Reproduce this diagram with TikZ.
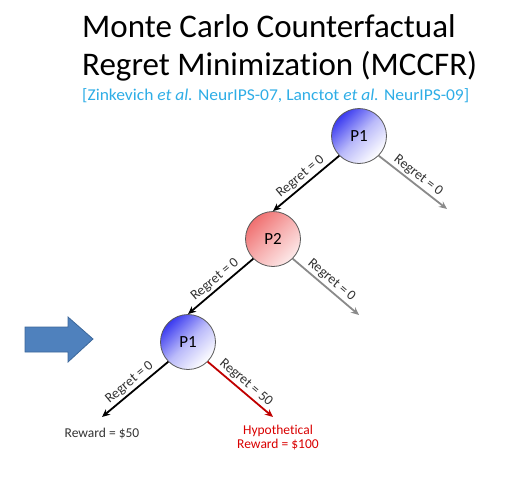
\documentclass[tikz,border=0pt]{standalone}
\usepackage{fontspec}
\setmainfont{Carlito}[Ligatures=CommonOff]
\usetikzlibrary{arrows.meta}
\definecolor{citecol}{HTML}{2EADE6}
\definecolor{redarrow}{HTML}{C00000}
\definecolor{grayarrow}{HTML}{8A8A8A}
\definecolor{bluefill}{HTML}{3A3AF0}
\definecolor{pinkfill}{HTML}{F07070}
\definecolor{barrow}{HTML}{4F81BD}
\definecolor{barrowedge}{HTML}{3C679A}
\begin{document}
\begin{tikzpicture}[x=1pt,y=-1pt,
  player/.style={circle,draw=black!65,line width=0.8pt,minimum size=55pt,inner sep=0pt,font=\fontsize{17}{20}\selectfont},
  bluep/.style={player,shading=axis,top color=bluefill,bottom color=white,middle color=bluefill!35,shading angle=45},
  pinkp/.style={player,shading=axis,top color=pinkfill,bottom color=pinkfill!15,middle color=pinkfill!55,shading angle=45},
  edgeb/.style={line width=1.8pt,-{Stealth[length=8pt,width=7pt]}},
  edgeg/.style={edgeb,draw=grayarrow},
  edger/.style={edgeb,draw=redarrow},
  reglab/.style={sloped,above,font=\fontsize{14}{16}\selectfont,text=black!80,inner sep=2pt},
  rewlab/.style={font=\fontsize{13.5}{16}\selectfont,align=center}
]
\useasboundingbox (0,0) rectangle (523,485);
% title
\node[anchor=base west,inner sep=0pt,font=\fontsize{33}{40}\selectfont] (t1) at (82,37) {Monte Carlo Counterfactual};
\node[anchor=base west,inner sep=0pt,font=\fontsize{33}{40}\selectfont] (t2) at (82,75) {Regret Minimization (MCCFR)};
\node[anchor=base west,inner sep=0pt,font=\fontsize{16.5}{18}\selectfont,text=citecol] (cite) at (82,100) {\scalebox{1.06}[1]{[Zinkevich \textit{et al.} NeurIPS-07, Lanctot \textit{et al.} NeurIPS-09]}};
% nodes
\node[bluep] (p1) at (359,136) {P1};
\node[pinkp] (p2) at (273,239) {P2};
\node[bluep] (p1b) at (188,342) {P1};
\coordinate (e1) at (447,209);
\coordinate (e2) at (359,315);
\coordinate (e3) at (102,417);
\coordinate (e4) at (273,417);
% edges
\draw[edgeb] (p1.225) -- node[reglab] {Regret = 0} (p2.north);
\draw[edgeg] (p1.315) -- node[reglab] {Regret = 0} (e1);
\draw[edgeb] (p2.225) -- node[reglab] {Regret = 0} (p1b.north);
\draw[edgeg] (p2.315) -- node[reglab] {Regret = 0} (e2);
\draw[edgeb] (p1b.225) -- node[reglab] {Regret = 0} (e3);
\draw[edger] (p1b.315) -- node[reglab] {Regret = 50} (e4);
% reward labels
\node[rewlab,anchor=north,text=black!80] (r1) at (102,425) {Reward = \$50};
\node[rewlab,anchor=north,text=red!85!black] (r2) at (278,422) {Hypothetical\\[-2pt]Reward = \$100};
% big arrow
\draw[fill=barrow,draw=barrowedge,line width=0.8pt] (25,327) -- (68,327) -- (68,317) -- (93,339) -- (68,362) -- (68,352) -- (25,352) -- cycle;
\end{tikzpicture}
\end{document}
